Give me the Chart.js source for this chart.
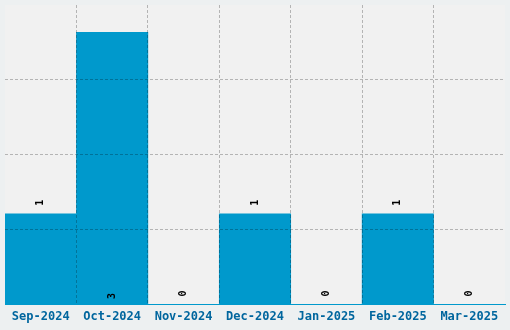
<!DOCTYPE html>
<html>
<head>
<meta charset="utf-8">
<script src="https://cdn.jsdelivr.net/npm/chart.js@4.4.0/dist/chart.umd.min.js"></script>
<style>
  html, body { margin: 0; padding: 0; background: #edf0f1; }
  #wrap { width: 510px; height: 330px; }
</style>
</head>
<body>
<div id="wrap"><canvas id="chart" width="510" height="330"></canvas></div>
<script>
// Data
const months = ['Sep-2024', 'Oct-2024', 'Nov-2024', 'Dec-2024', 'Jan-2025', 'Feb-2025', 'Mar-2025'];
const counts = [1, 3, 0, 1, 0, 1, 0];
const yMax = 3.3;

const barColor = '#0099cc';
const gridColor = 'rgba(0, 0, 0, 0.25)';
const clear = 'rgba(0,0,0,0)';

// Light grey plot background
const plotBackground = {
    id: 'plotBackground',
    beforeDraw(chart) {
        const { ctx, chartArea } = chart;
        ctx.save();
        ctx.fillStyle = '#f1f1f1';
        ctx.fillRect(chartArea.left, chartArea.top, chartArea.right - chartArea.left, chartArea.bottom - chartArea.top);
        ctx.restore();
    }
};

// Rotated value labels
const valueLabels = {
    id: 'valueLabels',
    afterDraw(chart) {
        const { ctx, chartArea } = chart;
        const meta = chart.getDatasetMeta(0);
        ctx.save();
        ctx.font = 'bold 10px "DejaVu Sans Mono", monospace';
        ctx.fillStyle = '#000';
        ctx.textAlign = 'center';
        ctx.textBaseline = 'middle';
        meta.data.forEach((bar, i) => {
            let y = bar.y - 11;
            // no room above the tallest bar: put it at the foot
            if (y < chartArea.top + 25) y = bar.base - 8;
            ctx.save();
            ctx.translate(bar.x, y);
            ctx.rotate(-Math.PI / 2);
            ctx.fillText(String(counts[i]), 0, 0);
            ctx.restore();
        });
        ctx.restore();
    }
};

// only inner grid lines, no edges
const innerLine = last => ctx => (ctx.type !== 'tick' || ctx.index === 0 || ctx.index === last ? clear : gridColor);

new Chart(document.getElementById('chart'), {
    type: 'bar',
    data: {
        labels: months,
        datasets: [{
            data: counts,
            backgroundColor: barColor,
            borderWidth: 0,
            barPercentage: 1,
            categoryPercentage: 1
        }]
    },
    plugins: [plotBackground, valueLabels],
    options: {
        responsive: false,
        animation: false,
        layout: { padding: { left: 5, right: 5, top: 5, bottom: 1 } },
        plugins: {
            legend: { display: false },
            tooltip: { enabled: false }
        },
        scales: {
            x: {
                border: { display: true, color: barColor, width: 1, dash: [3, 2], z: 2 },
                grid: { z: 1, drawTicks: false, color: innerLine(-1) },
                ticks: {
                    padding: 5,
                    color: '#00669e',
                    font: { family: '"DejaVu Sans Mono", monospace', size: 12, weight: 'bold' }
                }
            },
            y: {
                min: 0,
                max: yMax,
                border: { display: false, dash: [3, 2], z: 2 },
                grid: { z: 1, drawTicks: false, color: innerLine(4) },
                ticks: { display: false, count: 5 }
            }
        }
    }
});
</script>
</body>
</html>
